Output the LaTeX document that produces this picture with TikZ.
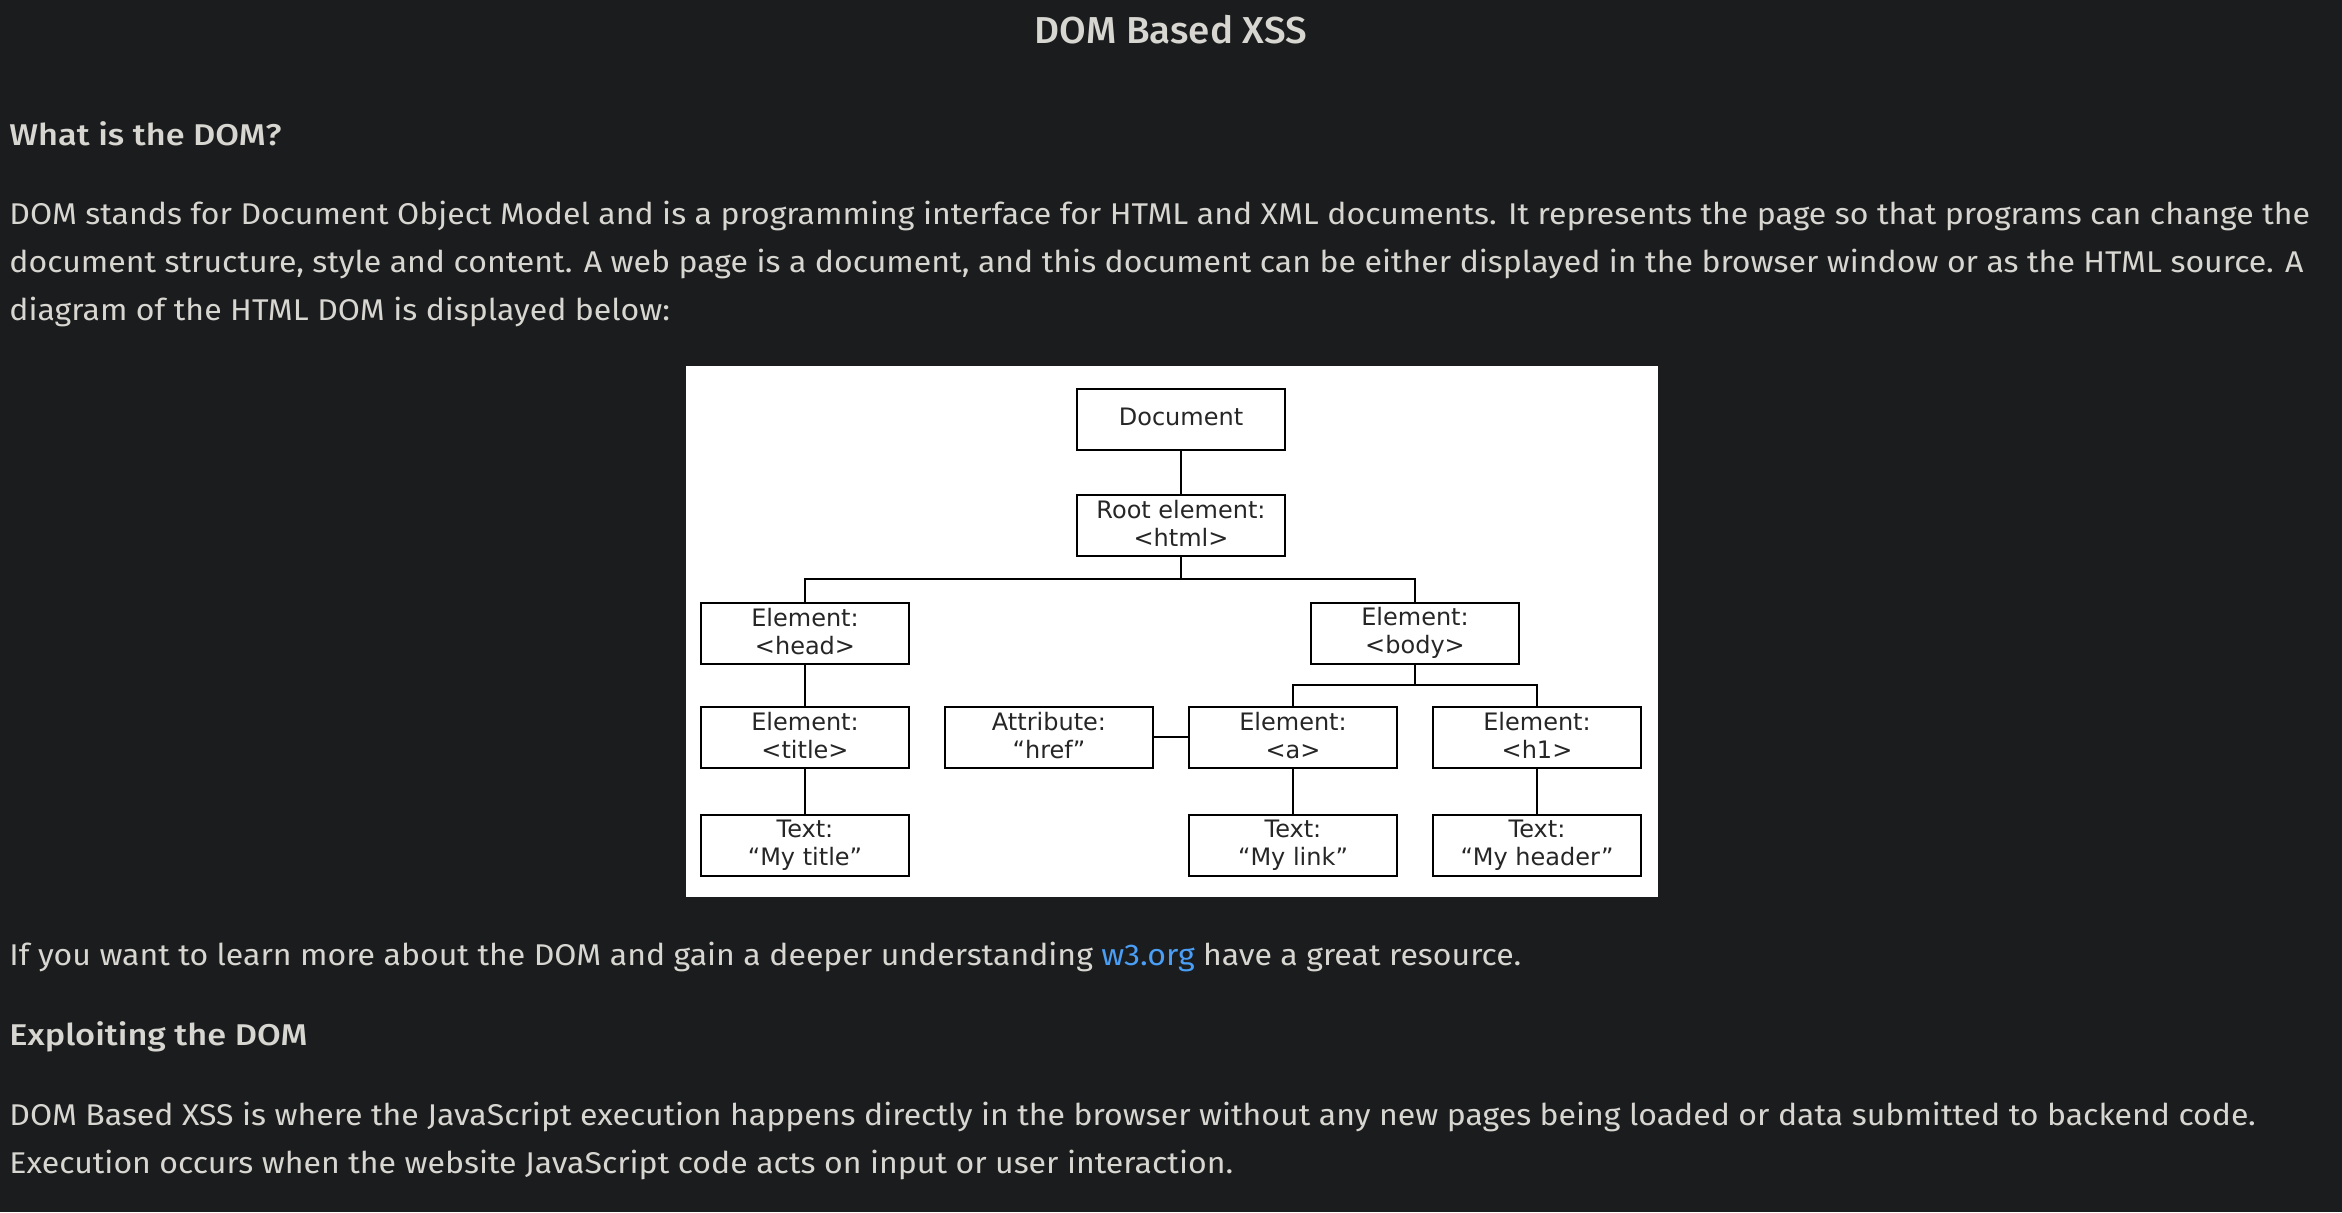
\documentclass[tikz,border=0pt]{standalone}
\usepackage{fontspec}
\setmainfont{Fira Sans}[FakeStretch=1.068]
\newfontfamily\medfont{Fira Sans Medium}[FakeStretch=1.145]
\newfontfamily\titelfont{Fira Sans Medium}[FakeStretch=1.03]
\newfontfamily\diafont{DejaVu Sans}
\usetikzlibrary{positioning,calc}
\definecolor{seite}{HTML}{1B1C1E}
\definecolor{schrift}{HTML}{D8D6D1}
\definecolor{verweis}{HTML}{4A9EF5}

\begin{document}
\begin{tikzpicture}[x=0.5pt,y=-0.5pt,
  zeile/.style={anchor=base west,inner sep=0pt,text=schrift,font=\fontsize{15}{18}\selectfont},
  kopf/.style={zeile,font=\fontsize{15}{18}\medfont},
  titel/.style={zeile,anchor=base,font=\fontsize{18.75}{22}\titelfont},
  box/.style={draw=black,line width=1pt,fill=white,minimum width=104pt,minimum height=30.5pt,
    inner sep=0pt,align=center,text=black!85,font=\diafont\fontsize{12}{14}\selectfont,
    execute at end node={\rule[-2pt]{0pt}{2pt}}},
  ast/.style={line width=1pt}]
%Seite in Pixeln, Ursprung oben links
\useasboundingbox (0,0) rectangle (2342,1212);
\fill[seite] (0,0) rectangle (2342,1212);
  \pgfmathsetmacro{\spA}{805}
  \pgfmathsetmacro{\spB}{1049}
  \pgfmathsetmacro{\spC}{1293}
  \pgfmathsetmacro{\spD}{1537}
%Text oben
\node[titel] (titel) at (1171,43) {DOM Based XSS};
\node[kopf] (frage) at (9,145) {What is the DOM?};
\node[zeile] (zA) at (9,224) {DOM stands for Document Object Model and is a programming interface for HTML and XML documents. It represents the page so that programs can change the};
\node[zeile] (zB) at (9,272) {document structure, style and content. A web page is a document, and this document can be either displayed in the browser window or as the HTML source. A};
\node[zeile] (zC) at (9,320) {diagram of the HTML DOM is displayed below:};
%Bild mit dem Baum
\fill[white] (686,366) rectangle (1658,897);
\node[box] (doc) at (1181,419) {Document};
\node[box] (root) at (1181,525) {Root element:\\<html>};
\node[box] (head) at (\spA,633) {Element:\\<head>};
\node[box] (body) at ({(\spC+\spD)/2},633) {Element:\\<body>};
\node[box] (title) at (\spA,737) {Element:\\<title>};
\node[box] (attr) at (\spB,737) {Attribute:\\“href”};
\node[box] (a) at (\spC,737) {Element:\\<a>};
\node[box] (h1) at (\spD,737) {Element:\\<h1>};
\node[box] (mytitle) at (\spA,845) {Text:\\“My title”};
\node[box] (mylink) at (\spC,845) {Text:\\“My link”};
\node[box] (myheader) at (\spD,845) {Text:\\“My header”};
\coordinate (busA) at ($(root.south)!0.5!(root.south |- head.north)$);
\coordinate (busB) at ($(body.south)!0.5!(body.south |- a.north)$);
\draw[ast] (doc) -- (root);
\draw[ast] (root.south) -- (busA) -| (head.north);
\draw[ast] (busA) -| (body.north);
\draw[ast] (body.south) -- (busB) -| (a.north);
\draw[ast] (busB) -| (h1.north);
\draw[ast] (attr) -- (a);
\draw[ast] (head) -- (title);
\draw[ast] (title) -- (mytitle);
\draw[ast] (a) -- (mylink);
\draw[ast] (h1) -- (myheader);
%Text unten
\node[zeile] (zD) at (9,965) {If you want to learn more about the DOM and gain a deeper understanding {\color{verweis}w3.org} have a great resource.};
\node[kopf] (ausnutzen) at (9,1045) {Exploiting the DOM};
\node[zeile] (zE) at (9,1125) {DOM Based XSS is where the JavaScript execution happens directly in the browser without any new pages being loaded or data submitted to backend code.};
\node[zeile] (zF) at (9,1173) {Execution occurs when the website JavaScript code acts on input or user interaction.};
\end{tikzpicture}
\end{document}
